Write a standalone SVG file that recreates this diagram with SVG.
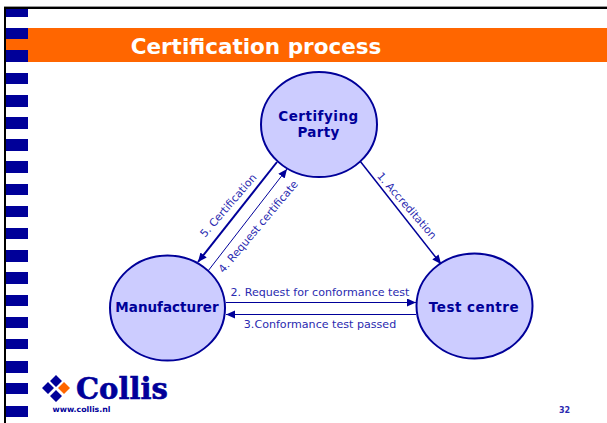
<svg xmlns="http://www.w3.org/2000/svg" width="607" height="423" viewBox="0 0 607 423">
<style>
text{font-family:"DejaVu Sans",Verdana,sans-serif;fill:#2a2ab0}
.n{fill:#ccccff;stroke:#000099;stroke-width:2}
.b{font-weight:bold;font-size:13.5px;fill:#000099;text-anchor:middle}
.l{font-size:11.100px;text-anchor:middle}
.c{stroke:#000099;fill:none}
.s{fill:#000099}
</style>
<defs>
<marker id="a" markerUnits="userSpaceOnUse" markerWidth="10" markerHeight="10" refX="9" refY="4" orient="auto"><path d="M0 0L9 4L0 8z" fill="#000099"/></marker>
</defs>
<rect width="607" height="423" fill="#fff"/>
<g id="frame">
<rect x="4" y="6" width="603" height="1" fill="#999"/>
<rect x="4" y="7" width="603" height="2" fill="#000"/>
<rect x="4" y="7" width="2" height="416" fill="#000"/>
</g>
<rect id="banner" x="6" y="28" width="601" height="34" fill="#ff6600"/>
<g id="stripes" class="s">
<rect x="6" y="9" width="22" height="8"/><rect x="6" y="28" width="22" height="11"/><rect x="6" y="50" width="22" height="12"/><rect x="6" y="73" width="22" height="11"/><rect x="6" y="95" width="22" height="12"/><rect x="6" y="117" width="22" height="12"/><rect x="6" y="139" width="22" height="12"/><rect x="6" y="161" width="22" height="12"/><rect x="6" y="184" width="22" height="11"/><rect x="6" y="206" width="22" height="11"/><rect x="6" y="228" width="22" height="11"/><rect x="6" y="250" width="22" height="12"/><rect x="6" y="272" width="22" height="12"/><rect x="6" y="295" width="22" height="11"/><rect x="6" y="317" width="22" height="11"/><rect x="6" y="339" width="22" height="10"/><rect x="6" y="361" width="22" height="12"/><rect x="6" y="383" width="22" height="11"/><rect x="6" y="406" width="22" height="11"/>
</g>
<text x="256" y="54" text-anchor="middle" style="font-weight:bold;font-size:21.500px;fill:#fff">Certification process</text>
<g id="connectors">
<path class="c" stroke-width="1.500" d="M360 161L441 264" marker-end="url(#a)"/>
<path class="c" d="M208 271L287 169" marker-end="url(#a)"/>
<path class="c" stroke-width="2" d="M277 162L198 262" marker-end="url(#a)"/>
<path class="c" d="M226 302.500L416 302.500" marker-end="url(#a)"/>
<path class="c" d="M416 314.500L226 314.500" marker-end="url(#a)"/>
</g>
<g id="certifying-party"><ellipse class="n" cx="319" cy="124.500" rx="58" ry="52.500"/><text class="b" x="318.500" y="121" letter-spacing="0.500">Certifying</text><text class="b" x="318.500" y="137" letter-spacing="0.300">Party</text></g>
<g id="manufacturer"><ellipse class="n" cx="167.500" cy="308" rx="57.500" ry="52.500"/><text class="b" x="167" y="312">Manufacturer</text></g>
<g id="test-centre"><ellipse class="n" cx="474.500" cy="306" rx="58" ry="52.500"/><text class="b" x="474" y="312" letter-spacing="0.500">Test centre</text></g>
<g id="labels">
<text class="l" x="320" y="296">2. Request for conformance test</text>
<text class="l" x="320" y="328">3.Conformance test passed</text>
<text class="l" style="font-size:10.800px" transform="translate(231 208) rotate(-49)">5. Certification</text>
<text class="l" style="font-size:10.900px" transform="translate(261 229) rotate(-50)">4. Request certificate</text>
<text class="l" style="font-size:10.700px" transform="translate(404 208) rotate(49)">1. Accreditation</text>
</g>
<g id="logo">
<path class="s" d="M42 388L48 382L54 388L48 394zM50 381L56 375L62 381L56 387zM50 396L56 390L62 396L56 402z"/>
<path fill="#ff6600" d="M58 388L64 382L70 388L64 394z"/>
<text x="76" y="399" style="font-family:'DejaVu Serif',serif;font-weight:bold;font-size:29px;fill:#000099;stroke:#000099;stroke-width:.6">Collis</text>
<text x="52.500" y="412" style="font-weight:bold;font-size:7.800px;fill:#000099">www.collis.nl</text>
</g>
<text x="564.500" y="413" text-anchor="middle" style="font-weight:bold;font-size:8px;fill:#2a2ab0">32</text>
</svg>
